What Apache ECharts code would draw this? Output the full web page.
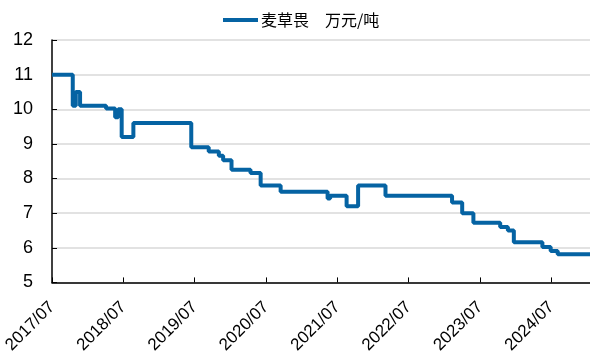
<!DOCTYPE html>
<html>
<head>
<meta charset="utf-8">
<script src="https://cdn.jsdelivr.net/npm/echarts@6/dist/echarts.min.js"></script>
<style>
  html, body { margin: 0; padding: 0; background: #fff; }
  #chart { width: 590px; height: 356px; }
</style>
</head>
<body>
<div id="chart"></div>
<script>
// Dicamba price, 10k CNY per tonne; each entry is the date a new price level starts
const seriesName = '麦草畏　万元/吨';
const changeDates = [
  '2017-07-01', '2017-10-16', '2017-11-01', '2017-11-23', '2018-04-04',
  '2018-05-20', '2018-06-05', '2018-06-23', '2018-08-22', '2019-06-14',
  '2019-09-12', '2019-11-03', '2019-11-25', '2020-01-07', '2020-04-13',
  '2020-06-04', '2020-09-15', '2021-05-12', '2021-05-25', '2021-08-18',
  '2021-10-16', '2022-03-04', '2023-02-10', '2023-04-01', '2023-05-28',
  '2023-10-13', '2023-11-22', '2023-12-22', '2024-05-16', '2024-06-28',
  '2024-08-03', '2025-01-31'
];
const prices = [
  11.0, 10.1, 10.5, 10.1, 10.02,
  9.77, 10.0, 9.2, 9.6, 8.9,
  8.78, 8.66, 8.53, 8.25, 8.16,
  7.8, 7.62, 7.42, 7.5, 7.2,
  7.8, 7.5, 7.31, 7.0, 6.72,
  6.6, 6.5, 6.16, 6.02, 5.91,
  5.81, 5.81
];
const yTicks = [5, 6, 7, 8, 9, 10, 11, 12];
const xTickLabels = ['2017/07', '2018/07', '2019/07', '2020/07', '2021/07', '2022/07', '2023/07', '2024/07'];

// x position = months elapsed since 2017-07-01
function monthsFromStart(s) {
  const [y, m, d] = s.split('-').map(Number);
  return (y - 2017) * 12 + (m - 7) + (d - 1) / 30.5;
}
const points = changeDates.map((d, i) => [monthsFromStart(d), prices[i]]);

const chart = echarts.init(document.getElementById('chart'), null, { renderer: 'canvas' });
chart.setOption({
  animation: false,
  backgroundColor: '#fff',
  legend: {
    top: 7,
    left: 218,
    icon: 'rect',
    itemWidth: 35,
    itemHeight: 4,
    itemGap: 4,
    textStyle: { fontFamily: 'Noto Sans CJK SC', fontSize: 16, color: '#000', padding: [0, 0, 0, -2] },
    data: [seriesName]
  },
  grid: { left: 52, right: 0, top: 40, bottom: 73, containLabel: false },
  xAxis: {
    type: 'value',
    min: 0,
    max: 90.5,
    interval: 12,
    axisLine: { show: true, lineStyle: { color: '#000', width: 1.5 } },
    axisTick: { show: true, inside: true, length: 5, lineStyle: { color: '#000', width: 1 } },
    splitLine: { show: false },
    axisLabel: {
      rotate: 45,
      margin: 22,
      fontFamily: 'Arial, Liberation Sans, sans-serif',
      fontSize: 17,
      color: '#000',
      showMaxLabel: false,
      formatter: v => xTickLabels[Math.round(v / 12)] || ''
    }
  },
  yAxis: {
    type: 'value',
    min: yTicks[0],
    max: yTicks[yTicks.length - 1],
    interval: 1,
    axisLine: { show: true, lineStyle: { color: '#000', width: 1.5 } },
    axisTick: { show: true, inside: true, length: 5, lineStyle: { color: '#000', width: 1 } },
    splitLine: { show: true, lineStyle: { color: '#d9d9d9', width: 1.5 } },
    axisLabel: {
      margin: 19,
      fontFamily: 'Arial, Liberation Sans, sans-serif',
      fontSize: 18,
      color: '#000'
    }
  },
  series: [{
    name: seriesName,
    type: 'line',
    step: 'end',
    showSymbol: false,
    data: points,
    color: '#0563a3',
    lineStyle: { color: '#0563a3', width: 4 }
  }]
});
</script>
</body>
</html>
